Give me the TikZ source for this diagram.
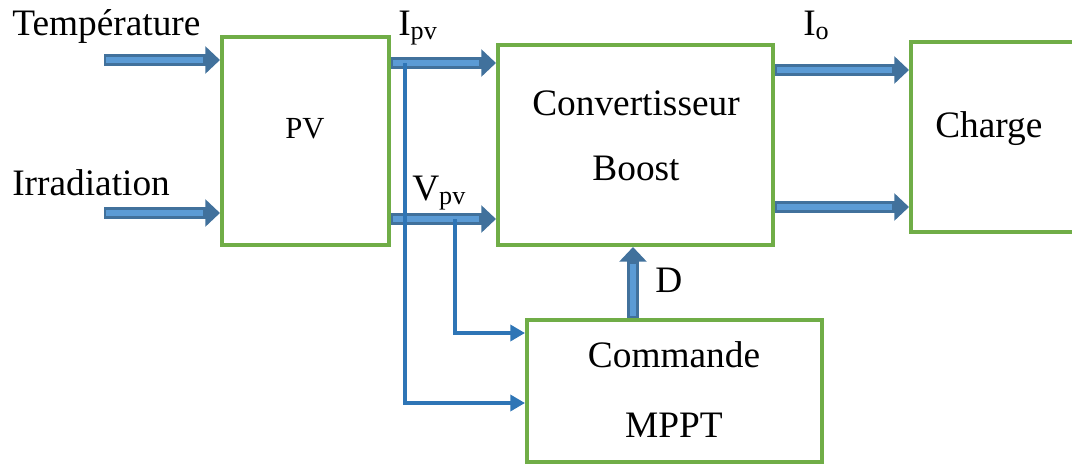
\documentclass[tikz,border=0pt]{standalone}
\usepackage{fontspec}
\setmainfont{Liberation Serif}
\usetikzlibrary{arrows.meta}
\definecolor{boxgreen}{HTML}{70AD47}
\definecolor{fatdark}{HTML}{41719C}
\definecolor{fatlight}{HTML}{5B9BD5}
\definecolor{thinblue}{HTML}{2E75B6}
\tikzset{
  blk/.style={draw=boxgreen, line width=3pt, rectangle, inner sep=0pt, fill=white},
  lbl/.style={inner sep=0pt, font=\fontsize{28}{32}\selectfont},
  fat/.style={draw=fatdark, line width=8.5pt, -{Triangle[length=11pt,width=20pt]},
    postaction={draw=fatlight, line width=4.5pt, -, shorten >=13pt, shorten <=1.5pt}},
  thin/.style={draw=thinblue, line width=2.6pt, -{Triangle[length=11pt,width=12pt]}}
}
\begin{document}
\begin{tikzpicture}[x=0.75pt,y=-0.75pt]
\useasboundingbox (0,0) rectangle (1072,465);
% boxes
\node[blk, minimum width=167*0.75pt, minimum height=208*0.75pt] (pv) at (305.5,141) {};
\node[blk, minimum width=275*0.75pt, minimum height=200*0.75pt] (conv) at (635.5,145) {};
\node[blk, minimum width=179*0.75pt, minimum height=190*0.75pt] (charge) at (1000.5,137) {};
\node[blk, minimum width=295*0.75pt, minimum height=142*0.75pt] (mppt) at (674.5,391) {};
% free ends
\coordinate (tin) at (104,60);
\coordinate (iin) at (104,213);
\coordinate (ipvtap) at (405,63);
\coordinate (vpvtap) at (455,219);
% fat arrows
\draw[fat] (tin) -- (tin -| pv.west);
\draw[fat] (iin) -- (iin -| pv.west);
\draw[fat] (pv.east |- ipvtap) -- (conv.west |- ipvtap);
\draw[fat] (pv.east |- vpvtap) -- (conv.west |- vpvtap);
\draw[fat] (conv.east |- 0,70) -- (charge.west |- 0,70);
\draw[fat] (conv.east |- 0,207) -- (charge.west |- 0,207);
\draw[fat] (mppt.north -| 633,0) -- (conv.south -| 633,0);
% thin lines
\draw[thin] (ipvtap) -- (405,403) -- (mppt.west |- 0,403);
\draw[thin] (vpvtap) -- (455,333) -- (mppt.west |- 0,333);
% labels
\node[lbl, anchor=base west] (tt) at (12,35) {Température};
\node[lbl, anchor=base west] (ti) at (12,195) {Irradiation};
\node[lbl, anchor=base, font=\fontsize{23}{27}\selectfont] (tpv) at (305,138) {PV};
\node[lbl, anchor=base west] (tipv) at (398,35) {I\textsubscript{pv}};
\node[lbl, anchor=base west] (tvpv) at (412,200) {V\textsubscript{pv}};
\node[lbl, anchor=base west] (tio) at (803,35) {I\textsubscript{o}};
\node[lbl, anchor=base] (tc1) at (636,115) {Convertisseur};
\node[lbl, anchor=base] (tc2) at (636,180) {Boost};
\node[lbl, anchor=base west] (tch) at (935,137) {Charge};
\node[lbl, anchor=base] (tm1) at (674,367) {Commande};
\node[lbl, anchor=base] (tm2) at (674,437) {MPPT};
\node[lbl, anchor=base west] (td) at (655,292) {D};
\end{tikzpicture}
\end{document}
